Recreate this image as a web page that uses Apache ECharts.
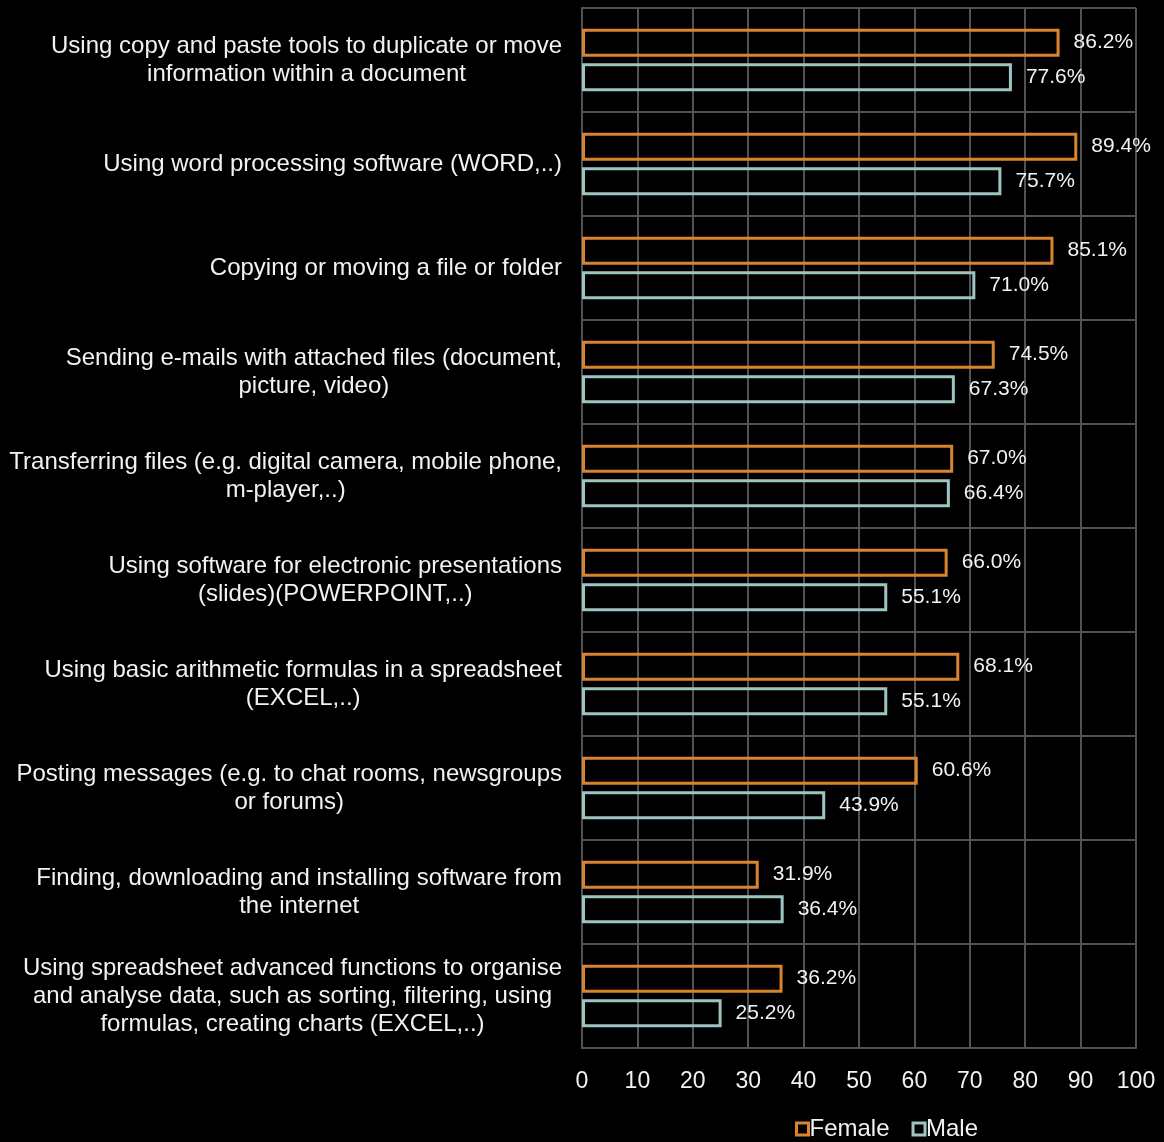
<!DOCTYPE html>
<html><head><meta charset="utf-8">
<script src="https://cdn.jsdelivr.net/npm/echarts@6/dist/echarts.min.js"></script>
<style>html,body{margin:0;padding:0;background:#000;}#c{width:1164px;height:1142px;}</style>
</head><body><div id="c"></div>
<script>
const categories = [
  "Using copy and paste tools to duplicate or move\ninformation within a document",
  "Using word processing software (WORD,..)",
  "Copying or moving a file or folder",
  "Sending e-mails with attached files (document,\npicture, video)",
  "Transferring files (e.g. digital camera, mobile phone,\nm-player,..)",
  "Using software for electronic presentations\n(slides)(POWERPOINT,..)",
  "Using basic arithmetic formulas in a spreadsheet\n(EXCEL,..)",
  "Posting messages (e.g. to chat rooms, newsgroups\nor forums)",
  "Finding, downloading and installing software from\nthe internet",
  "Using spreadsheet advanced functions to organise\nand analyse data, such as sorting, filtering, using\nformulas, creating charts (EXCEL,..)"
];
const female = [86.2, 89.4, 85.1, 74.5, 67.0, 66.0, 68.1, 60.6, 31.9, 36.2];
const male = [77.6, 75.7, 71.0, 67.3, 66.4, 55.1, 55.1, 43.9, 36.4, 25.2];
const xTicks = [0, 10, 20, 30, 40, 50, 60, 70, 80, 90, 100];

const FONT = "Liberation Sans, Arial, sans-serif";
const GRID = "#525252";
const ORANGE = "#DA842F";
const TEAL = "#9EC4C2";

const chart = echarts.init(document.getElementById('c'));
function mkSeries(name, data, color) {
  return {
    name: name, type: 'bar', data: data,
    barWidth: 28, barGap: '24%',
    itemStyle: { color: 'transparent', borderColor: color, borderWidth: 3 },
    label: { show: true, position: 'right', distance: 14, color: '#f2f2f2',
      fontFamily: FONT, fontSize: 21, formatter: p => p.value.toFixed(1) + '%' }
  };
}
chart.setOption({
  backgroundColor: '#000',
  animation: false,
  grid: { left: 582, right: 28, top: 8, bottom: 94, containLabel: false },
  legend: {
    top: 1117, left: 795, itemWidth: 12, itemHeight: 12, itemGap: 22,
    padding: 0,
    icon: 'rect',
    itemStyle: { borderWidth: 3 },
    textStyle: { color: '#f2f2f2', fontFamily: FONT, fontSize: 24, padding: [0,0,0,-4] },
    data: ['Female', 'Male']
  },
  xAxis: {
    type: 'value', min: 0, max: 100, interval: 10,
    axisLine: { show: true, lineStyle: { color: GRID, width: 2 } },
    axisTick: { show: false },
    splitLine: { show: true, lineStyle: { color: GRID, width: 2 } },
    axisLabel: { color: '#f2f2f2', fontFamily: FONT, fontSize: 23, margin: 22,
      formatter: v => xTicks.indexOf(v) >= 0 ? String(v) : '' }
  },
  yAxis: {
    type: 'category', data: categories, inverse: true,
    axisLine: { show: true, lineStyle: { color: GRID, width: 2 } },
    axisTick: { show: false },
    splitLine: { show: true, lineStyle: { color: GRID, width: 2 } },
    axisLabel: {
      color: '#f2f2f2', fontFamily: FONT, fontSize: 24, margin: 20, align: 'right',
      lineHeight: 28,
      formatter: v => v.split('\n').map(s => '{a|' + s + '}').join('\n'),
      rich: { a: { align: 'center', color: '#f2f2f2', fontFamily: FONT, fontSize: 24, lineHeight: 28 } }
    }
  },
  series: [mkSeries('Female', female, ORANGE), mkSeries('Male', male, TEAL)]
});
</script></body></html>
